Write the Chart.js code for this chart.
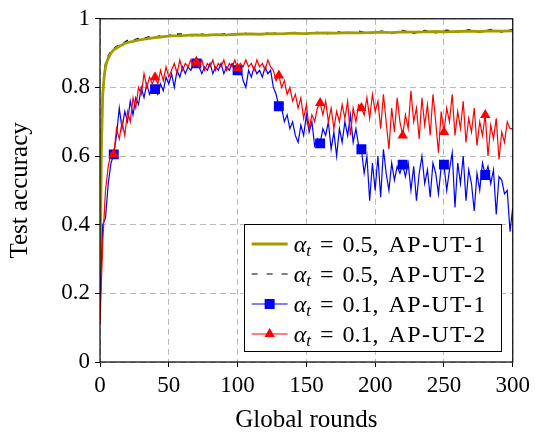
<!DOCTYPE html>
<html>
<head>
<meta charset="utf-8">
<script src="https://cdn.jsdelivr.net/npm/chart.js@4.4.0/dist/chart.umd.min.js"></script>
<style>
html,body{margin:0;padding:0;background:#fff;}
#wrap{width:535px;height:433px;}
</style>
</head>
<body>
<div id="wrap"><canvas id="c" width="535" height="433"></canvas></div>
<script>
// ---------- data ----------
const rounds = [
  0,2,4,6,8,10,12,14,16,18,
  20,22,24,26,28,30,32,34,36,38,
  40,42,44,46,48,50,52,54,56,58,
  60,62,64,66,68,70,72,74,76,78,
  80,82,84,86,88,90,92,94,96,98,
  100,102,104,106,108,110,112,114,116,118,
  120,122,124,126,128,130,132,134,136,138,
  140,142,144,146,148,150,152,154,156,158,
  160,162,164,166,168,170,172,174,176,178,
  180,182,184,186,188,190,192,194,196,198,
  200,202,204,206,208,210,212,214,216,218,
  220,222,224,226,228,230,232,234,236,238,
  240,242,244,246,248,250,252,254,256,258,
  260,262,264,266,268,270,272,274,276,278,
  280,282,284,286,288,290,292,294,296,298,
  300
];
const blueUT1 = [
  0.17,0.40,0.42,0.52,0.58,0.605,0.66,0.74,0.68,0.73,
  0.70,0.76,0.72,0.77,0.75,0.80,0.77,0.81,0.78,0.80,
  0.795,0.78,0.81,0.79,0.83,0.81,0.84,0.80,0.85,0.83,
  0.86,0.84,0.86,0.85,0.87,0.87,0.86,0.84,0.86,0.85,
  0.87,0.84,0.86,0.85,0.87,0.84,0.86,0.85,0.87,0.86,
  0.85,0.86,0.82,0.80,0.85,0.83,0.86,0.84,0.85,0.83,
  0.86,0.84,0.85,0.80,0.78,0.745,0.74,0.70,0.72,0.68,
  0.70,0.66,0.64,0.69,0.66,0.72,0.67,0.70,0.63,0.65,
  0.637,0.68,0.66,0.70,0.62,0.67,0.60,0.68,0.64,0.70,
  0.66,0.72,0.64,0.68,0.63,0.62,0.55,0.60,0.47,0.58,
  0.50,0.60,0.48,0.62,0.55,0.50,0.58,0.53,0.57,0.55,
  0.575,0.54,0.58,0.50,0.57,0.47,0.55,0.60,0.52,0.56,
  0.48,0.58,0.55,0.49,0.57,0.575,0.50,0.56,0.61,0.45,
  0.58,0.52,0.60,0.47,0.56,0.52,0.44,0.55,0.50,0.58,
  0.545,0.57,0.52,0.56,0.43,0.54,0.53,0.49,0.50,0.38,
  0.45
];
const redUT2 = [
  0.11,0.35,0.50,0.57,0.61,0.605,0.68,0.65,0.70,0.66,
  0.73,0.70,0.77,0.74,0.80,0.78,0.84,0.80,0.83,0.81,
  0.83,0.81,0.85,0.82,0.86,0.83,0.85,0.87,0.84,0.88,
  0.85,0.87,0.86,0.88,0.86,0.875,0.86,0.88,0.85,0.87,
  0.86,0.88,0.85,0.87,0.86,0.88,0.85,0.87,0.86,0.88,
  0.855,0.87,0.86,0.88,0.86,0.87,0.85,0.88,0.86,0.87,
  0.85,0.88,0.86,0.85,0.82,0.835,0.80,0.82,0.78,0.80,
  0.76,0.78,0.74,0.77,0.71,0.75,0.68,0.72,0.70,0.74,
  0.755,0.72,0.76,0.70,0.74,0.68,0.73,0.70,0.75,0.71,
  0.76,0.66,0.74,0.70,0.75,0.74,0.72,0.77,0.71,0.78,
  0.73,0.76,0.68,0.78,0.70,0.62,0.74,0.67,0.77,0.70,
  0.66,0.72,0.68,0.79,0.70,0.74,0.65,0.77,0.69,0.75,
  0.66,0.78,0.70,0.61,0.73,0.67,0.74,0.70,0.78,0.66,
  0.73,0.68,0.76,0.64,0.71,0.67,0.74,0.63,0.70,0.66,
  0.72,0.60,0.69,0.65,0.71,0.59,0.67,0.64,0.70,0.68,
  0.68
];
const roundsHigh = [
  0,1,2,3,4,5,6,7,8,9,10,
  12,14,16,18,20,
  24,28,32,36,40,44,48,52,
  60,68,76,84,92,100,108,116,124,132,
  140,148,156,164,172,180,188,196,204,212,
  220,228,236,244,252,260,268,276,284,292,
  300
];
const oliveUT1 = [
  0.20,0.62,0.78,0.83,0.86,0.875,0.885,0.893,0.90,0.905,0.91,
  0.915,0.92,0.924,0.928,0.931,
  0.934,0.938,0.941,0.943,0.945,0.947,0.949,0.950,
  0.951,0.953,0.952,0.954,0.953,0.955,0.956,0.955,0.957,0.956,
  0.958,0.957,0.958,0.959,0.958,0.960,0.959,0.960,0.961,0.960,
  0.962,0.961,0.962,0.963,0.962,0.963,0.964,0.963,0.965,0.964,
  0.965
];
const blackUT2 = [
  0.25,0.68,0.80,0.845,0.87,0.882,0.892,0.899,0.905,0.909,0.913,
  0.920,0.923,0.930,0.932,0.937,
  0.938,0.943,0.944,0.948,0.946,0.951,0.949,0.954,
  0.956,0.950,0.957,0.951,0.958,0.952,0.960,0.952,0.961,0.953,
  0.962,0.954,0.962,0.955,0.963,0.956,0.964,0.957,0.965,0.957,
  0.966,0.958,0.966,0.959,0.967,0.960,0.968,0.960,0.969,0.961,
  0.969
];
const markerRounds = [10,40,70,100,130,160,190,220,250,280];
const xTicks = [0,50,100,150,200,250,300];
const yTickLabels = ['0','0.2','0.4','0.6','0.8','1'];
const legendItems = [
  {alpha:'0.5', name:'AP-UT-1', color:'#a39c00', width:2.8, dash:[], marker:null},
  {alpha:'0.5', name:'AP-UT-2', color:'#000000', width:1.2, dash:[6,9], marker:null},
  {alpha:'0.1', name:'AP-UT-1', color:'#0000ff', width:1.2, dash:[], marker:'rect'},
  {alpha:'0.1', name:'AP-UT-2', color:'#ff0000', width:1.2, dash:[], marker:'triangle'}
];

const toXY = (xs, ys) => xs.map((x, i) => ({x: x, y: ys[i]}));
const FONT = 'Liberation Serif, Times New Roman, serif';

const rectRadius = ctx => (ctx.raw && markerRounds.includes(ctx.raw.x)) ? 7 : 0;
const triRadius = ctx => (ctx.raw && markerRounds.includes(ctx.raw.x)) ? 6 : 0;

const legendPlugin = {
  id: 'boxLegend',
  afterDraw(chart) {
    const ctx = chart.ctx;
    const ca = chart.chartArea;
    const fs = 24;
    const rowH = 30;
    const padL = 8, padR = 14, lineLen = 36, gap = 6;
    const eqGap = 9, commaGap = 10;
    ctx.save();
    const drawLabel = (it, x, y, doDraw) => {
      let tx = x;
      const part = (txt, font, dy) => {
        ctx.font = font;
        if (doDraw) ctx.fillText(txt, tx, y + dy);
        tx += ctx.measureText(txt).width;
      };
      part('\u03b1', 'italic ' + fs + 'px ' + FONT, 0);
      part('t', 'italic ' + Math.round(fs*0.7) + 'px ' + FONT, 4);
      tx += eqGap;
      part('=', fs + 'px ' + FONT, 0);
      tx += eqGap;
      part(it.alpha + ',', fs + 'px ' + FONT, 0);
      tx += commaGap;
      ctx.letterSpacing = '1.4px';
      part(it.name, fs + 'px ' + FONT, 0);
      ctx.letterSpacing = '0px';
      return tx - x;
    };
    const textW = Math.max(...legendItems.map(it => drawLabel(it, 0, 0, false)));
    const boxW = padL + lineLen + gap + textW + padR;
    const boxH = rowH * legendItems.length + 7;
    const right = ca.right - 12;
    const bottom = ca.bottom - 11;
    const left = right - boxW;
    const top = bottom - boxH;
    ctx.fillStyle = '#fff';
    ctx.fillRect(left, top, boxW, boxH);
    ctx.strokeStyle = '#000';
    ctx.lineWidth = 1;
    ctx.strokeRect(Math.round(left)+0.5, Math.round(top)+0.5, Math.round(boxW), Math.round(boxH));
    legendItems.forEach((it, i) => {
      const cy = top + 5 + rowH * (i + 0.5);
      const x0 = left + padL;
      ctx.beginPath();
      ctx.setLineDash(it.dash);
      ctx.strokeStyle = it.color;
      ctx.lineWidth = it.width;
      ctx.moveTo(x0, cy);
      ctx.lineTo(x0 + lineLen, cy);
      ctx.stroke();
      ctx.setLineDash([]);
      ctx.fillStyle = it.color;
      const mx = x0 + lineLen/2;
      if (it.marker === 'rect') {
        ctx.fillRect(mx - 5, cy - 5, 10, 10);
      } else if (it.marker === 'triangle') {
        ctx.beginPath();
        ctx.moveTo(mx, cy - 6);
        ctx.lineTo(mx + 5.2, cy + 3);
        ctx.lineTo(mx - 5.2, cy + 3);
        ctx.closePath();
        ctx.fill();
      }
      ctx.fillStyle = '#000';
      ctx.textBaseline = 'alphabetic';
      ctx.textAlign = 'left';
      drawLabel(it, x0 + lineLen + gap, cy + 8, true);
    });
    ctx.restore();
  }
};

const framePlugin = {
  id: 'frame',
  afterDatasetsDraw(chart) {
    const ctx = chart.ctx, ca = chart.chartArea;
    ctx.save();
    ctx.strokeStyle = '#000';
    ctx.lineWidth = 1.2;
    ctx.strokeRect(ca.left, ca.top, ca.right - ca.left, ca.bottom - ca.top);
    ctx.restore();
  }
};

const gridOpts = { color: '#b0b0b0', lineWidth: 0.9, tickLength: 5, tickColor: '#000', tickBorderDash: [], tickWidth: 1 };
const borderOpts = { display: false, dash: [6, 4] };

new Chart(document.getElementById('c'), {
  type: 'line',
  data: {
    datasets: [
      {
        label: 'alpha=0.1, AP-UT-2',
        data: toXY(rounds, redUT2),
        borderColor: '#ff0000', backgroundColor: '#ff0000',
        borderWidth: 1.2, pointStyle: 'triangle',
        pointRadius: triRadius, pointBorderWidth: 0, pointHoverRadius: 0,
        order: 0
      },
      {
        label: 'alpha=0.1, AP-UT-1',
        data: toXY(rounds, blueUT1),
        borderColor: '#0000ff', backgroundColor: '#0000ff',
        borderWidth: 1.2, pointStyle: 'rect',
        pointRadius: rectRadius, pointBorderWidth: 0, pointHoverRadius: 0,
        order: 1
      },
      {
        label: 'alpha=0.5, AP-UT-1',
        data: toXY(roundsHigh, oliveUT1),
        borderColor: '#a39c00', borderWidth: 2.8,
        pointRadius: 0, order: 2
      },
      {
        label: 'alpha=0.5, AP-UT-2',
        data: toXY(roundsHigh, blackUT2),
        borderColor: '#000000', borderWidth: 1.3, borderDash: [5, 6],
        pointRadius: 0, order: 3
      }
    ]
  },
  options: {
    responsive: false,
    animation: false,
    devicePixelRatio: 1,
    layout: { padding: { top: 18, right: 21, left: 0, bottom: 0 } },
    plugins: { legend: { display: false }, tooltip: { enabled: false } },
    scales: {
      x: {
        type: 'linear', min: 0, max: 300,
        afterBuildTicks: s => { s.ticks = xTicks.map(v => ({value: v})); },
        afterFit: s => { s.height = 71; },
        grid: gridOpts,
        border: borderOpts,
        ticks: { color: '#000', font: { family: FONT, size: 23 }, padding: 5, maxRotation: 0 },
        title: { display: true, text: 'Global rounds', color: '#000', font: { family: FONT, size: 25, lineHeight: 1 }, padding: { top: 0, bottom: 0 } }
      },
      y: {
        type: 'linear', min: 0, max: 1,
        afterBuildTicks: s => { s.ticks = yTickLabels.map(t => ({value: parseFloat(t)})); },
        afterFit: s => { s.width = 100; },
        grid: gridOpts,
        border: borderOpts,
        ticks: { color: '#000', font: { family: FONT, size: 23 }, padding: 5,
          callback: (v, i) => yTickLabels[i] },
        title: { display: true, text: 'Test accuracy', color: '#000', font: { family: FONT, size: 25, lineHeight: 1 }, padding: { top: 8, bottom: 0 } }
      }
    }
  },
  plugins: [framePlugin, legendPlugin]
});
</script>
</body>
</html>
